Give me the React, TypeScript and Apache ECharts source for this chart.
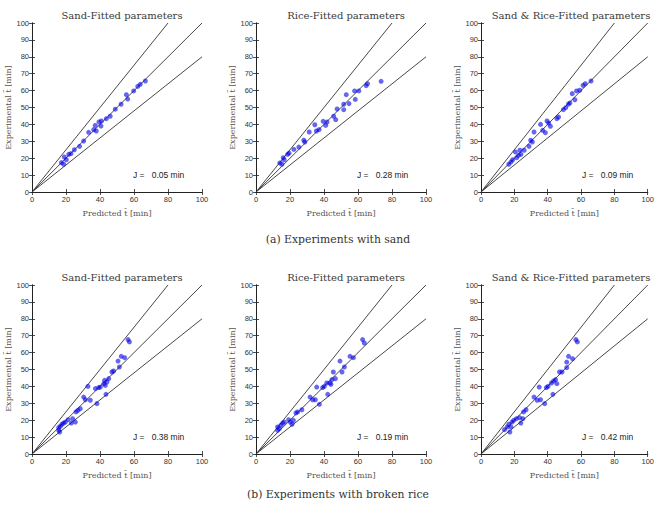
import React, { useEffect, useRef } from "react";
import * as echarts from "echarts";

// Panel titles, captions, J values
const panelTitles = ["Sand-Fitted parameters", "Rice-Fitted parameters", "Sand & Rice-Fitted parameters"];
const captions = ["(a) Experiments with sand", "(b) Experiments with broken rice"];
const jValues = [["0.05", "0.28", "0.09"], ["0.38", "0.19", "0.42"]];

// Reference lines (y = 1.25x, y = x, y = 0.8x)
const refUpper = [[0, 0], [80, 100]];
const refMid = [[0, 0], [100, 100]];
const refLower = [[0, 0], [100, 80]];

// (a) sand experiments: [predicted, experimental]
const sandSandFit = [
  [17.3, 17.4], [18.6, 16.4], [19, 20.7], [20.2, 19.1], [21.6, 22.3], [22.9, 22.7], [24.9, 25],
  [28, 27], [30.4, 30.2], [33.3, 35.3], [36.3, 36.9], [37.2, 39.4], [37.8, 36.1], [39.4, 41.4],
  [40.8, 42], [40.6, 39], [43.7, 43.4], [46, 44.8], [49, 49], [52.4, 51.9], [55.5, 57.6],
  [56.3, 55], [59.8, 59.8], [62.2, 62.5], [63.7, 63.7], [66.7, 65.7],
];
const sandRiceFit = [
  [14, 17.2], [15.2, 16.4], [16, 20.3], [16.6, 19.1], [18.6, 22.3], [19.5, 23], [22.3, 25.2],
  [25.2, 26.6], [28.1, 30.6], [28.7, 29.6], [31.3, 35.5], [34.6, 39.8], [35.5, 36.1], [37.1, 36.9],
  [39.5, 41.8], [41, 39.4], [41.8, 41.4], [45.7, 44.8], [46.9, 42.8], [47.7, 49.1], [51.6, 51.9],
  [51.6, 48.7], [53.1, 57.6], [54.7, 52.3], [58, 59.8], [58.4, 54.8], [60.5, 59.8], [64.8, 62.9],
  [65.6, 64.1], [73.6, 65.5],
];
const sandBothFit = [
  [16.7, 16.4], [18, 17.8], [19, 19.1], [20.6, 23.7], [21.4, 20.3], [22.5, 21.7], [23.3, 24.7],
  [24, 22.3], [25.9, 24.7], [28.8, 27], [29.8, 30.6], [30.8, 29.6], [31.8, 35.5], [35.7, 40],
  [37, 36.5], [38.6, 35.1], [39.6, 42], [40.6, 40.8], [41.6, 38.9], [45.5, 43.4], [46.5, 44.4],
  [49.4, 48.7], [50.8, 49.9], [52.4, 51.9], [53.3, 52.7], [54.7, 58.2], [56.3, 54.6], [57.3, 59.8],
  [59.2, 60.2], [61.2, 63.1], [62.5, 64.1], [66, 65.7],
];

// (b) broken rice experiments: [predicted, experimental]
const riceSandFit = [
  [15.7, 14], [15.7, 15.6], [16.3, 13], [16.7, 16.4], [17.6, 17.6], [18.6, 18.3], [19.6, 18.9],
  [21.2, 20.3], [23.1, 18.3], [23.9, 20.9], [25.5, 18.9], [25.9, 24.9], [27, 25.8], [28.4, 26.8],
  [30.4, 33.7], [31.4, 32.1], [34.3, 31.8], [32.9, 40], [37.3, 38.7], [38.2, 29.8], [39.2, 39.3],
  [40.2, 39.6], [42.2, 41.6], [42.7, 43.6], [43.1, 40.6], [44.1, 42.6], [45.1, 44.6], [43.5, 35.3],
  [47, 48.5], [48, 49.1], [50.6, 55], [51.4, 51.5], [52.5, 57.8], [54.5, 57], [56.5, 67.7],
  [57.3, 66.3],
];
const riceRiceFit = [
  [12.7, 14], [12.7, 16], [13.7, 15], [14.7, 17], [15.7, 18.3], [16.7, 18.9], [19.2, 20.3],
  [20.2, 18.9], [21.2, 17.6], [22, 19.9], [23.5, 24.3], [24.5, 24.9], [27, 26.2], [31.8, 33.7],
  [33.3, 32.1], [34.9, 32.1], [35.7, 39.6], [37.3, 29.4], [39.2, 39.3], [40.2, 40], [41.6, 42],
  [42.2, 35.3], [43.5, 42], [44.7, 44], [45.5, 48.5], [44.1, 41.2], [46.7, 44.6], [49.4, 55],
  [50.6, 48.5], [52, 51.5], [55.3, 57.8], [57.3, 57], [62.7, 67.7], [63.7, 65.7],
];
const riceBothFit = [
  [14.1, 14.4], [15.7, 16], [16.7, 17.6], [17.3, 13], [18, 16], [18.6, 18.9], [19.6, 19.9],
  [21.2, 20.9], [23.1, 21.5], [23.9, 18.3], [25.1, 20.9], [25.5, 24.9], [27, 26.2], [31.8, 33.7],
  [33.7, 31.8], [35.7, 32.1], [34.9, 39.6], [38.2, 29.8], [39.2, 39.3], [40.2, 40], [42.2, 42],
  [43.5, 43.2], [44.7, 44], [45.5, 41.6], [43.1, 35.3], [47.1, 48.5], [48.6, 48.5], [51.4, 54.4],
  [51.4, 51.1], [52.5, 57.8], [54.9, 56.4], [56.9, 67.7], [57.8, 66.3],
];

const panelData = [sandSandFit, sandRiceFit, sandBothFit, riceSandFit, riceRiceFit, riceBothFit];

const xTickInterval = 20;
const yTickInterval = 10;

const gridLefts = [32, 256, 481];
const gridTops = [23, 285];
const gridW = 170;
const gridH = 169;

const serif = "'DejaVu Serif', 'Liberation Serif', serif";
const sans = "'Liberation Sans', Arial, sans-serif";

function buildOption() {
  const grid: any[] = [];
  const xAxis: any[] = [];
  const yAxis: any[] = [];
  const series: any[] = [];
  const title: any[] = [];
  const graphic: any[] = [];

  for (let r = 0; r < 2; r++) {
    for (let c = 0; c < 3; c++) {
      const i = r * 3 + c;
      grid.push({ left: gridLefts[c], top: gridTops[r], width: gridW, height: gridH, containLabel: false });
      const axisLine = { show: true, lineStyle: { color: "#222", width: 1 } };
      const axisTick = { show: true, inside: true, length: 3, lineStyle: { color: "#222", width: 0.8 } };
      xAxis.push({
        gridIndex: i, type: "value", min: 0, max: 100, interval: xTickInterval, position: "bottom",
        axisLine, axisTick, splitLine: { show: false },
        axisLabel: { fontFamily: sans, fontSize: 7.5, color: "#333", margin: 3 },
        name: "Predicted t\u0304 [min]", nameLocation: "middle", nameGap: 17,
        nameTextStyle: { fontFamily: serif, fontSize: 8, color: "#555" },
      });
      xAxis.push({
        gridIndex: i, type: "value", min: 0, max: 100, interval: xTickInterval, position: "top",
        axisLine, axisTick, splitLine: { show: false }, axisLabel: { show: false },
      });
      yAxis.push({
        gridIndex: i, type: "value", min: 0, max: 100, interval: yTickInterval, position: "left",
        axisLine, axisTick, splitLine: { show: false },
        axisLabel: { fontFamily: sans, fontSize: 7.5, color: "#333", margin: 3 },
        name: "Experimental t\u0304 [min]", nameLocation: "middle", nameGap: 19,
        nameTextStyle: { fontFamily: serif, fontSize: 8, color: "#555" },
      });
      yAxis.push({
        gridIndex: i, type: "value", min: 0, max: 100, interval: yTickInterval, position: "right",
        axisLine, axisTick, splitLine: { show: false }, axisLabel: { show: false },
      });
      const xi = 2 * i;
      const yi = 2 * i;
      for (const ref of [refUpper, refMid, refLower]) {
        series.push({
          type: "line", xAxisIndex: xi, yAxisIndex: yi, data: ref, symbol: "none",
          lineStyle: { color: "#333", width: 0.9 }, silent: true, z: 2,
        });
      }
      series.push({
        type: "scatter", xAxisIndex: xi, yAxisIndex: yi, data: panelData[i], symbolSize: 5,
        itemStyle: { color: "rgba(0,0,230,0.75)" }, z: 3,
      });
      title.push({
        text: panelTitles[c], left: gridLefts[c] + gridW / 2, top: gridTops[r] - 18,
        textAlign: "center",
        textStyle: { fontFamily: serif, fontSize: 10, fontWeight: "normal", color: "#3a3a3a" },
      });
      graphic.push({
        type: "text", left: gridLefts[c] + 101, top: gridTops[r] + 147,
        style: { text: "J =   " + jValues[r][c] + " min", font: "8.5px " + sans, fill: "#222" },
      });
    }
    title.push({
      text: captions[r], left: 333, top: r === 0 ? 229 : 484, textAlign: "center",
      textStyle: { fontFamily: serif, fontSize: 10.8, fontWeight: "normal", color: "#333" },
    });
  }

  return { animation: false, backgroundColor: "#fff", grid, xAxis, yAxis, series, title, graphic };
}

export default function App() {
  const ref = useRef<HTMLDivElement>(null);
  useEffect(() => {
    if (!ref.current) return;
    const chart = echarts.init(ref.current, undefined, { renderer: "svg" });
    chart.setOption(buildOption() as any);
    return () => chart.dispose();
  }, []);
  return (
    <div
      ref={ref}
      style={{ position: "fixed", left: 0, top: 0, width: 657, height: 505, background: "#fff" }}
    />
  );
}
